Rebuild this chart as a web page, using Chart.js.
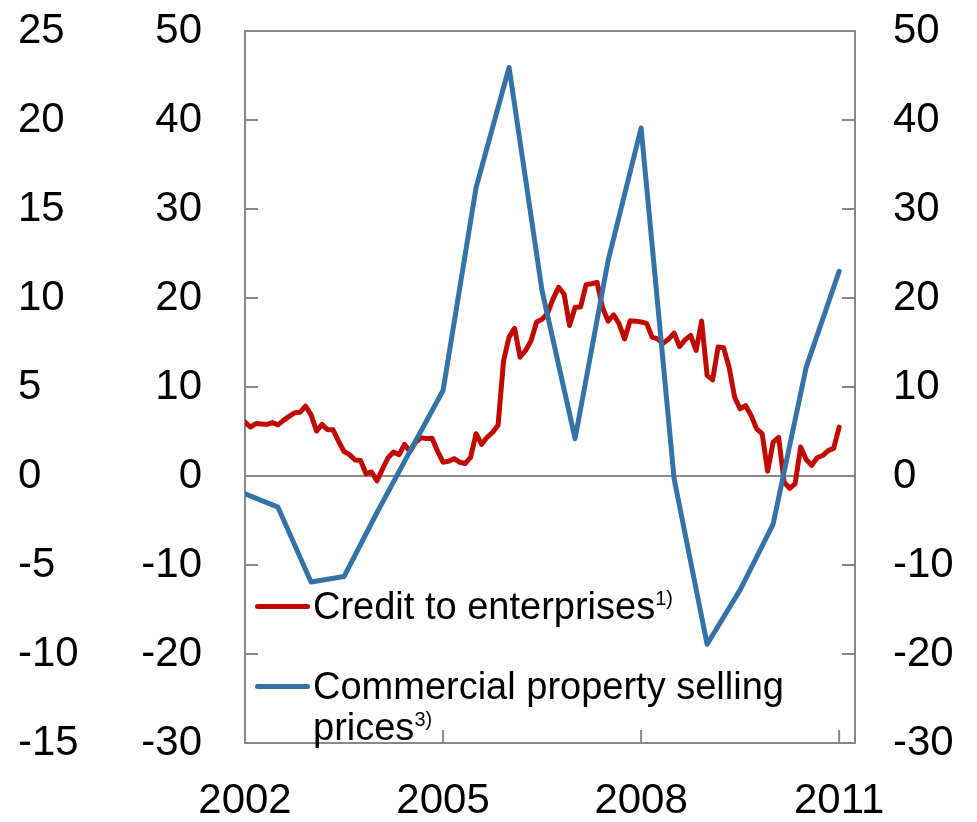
<!DOCTYPE html>
<html>
<head>
<meta charset="utf-8">
<script src="https://cdn.jsdelivr.net/npm/chart.js@4.4.1/dist/chart.umd.min.js"></script>
<style>
  html, body { margin: 0; padding: 0; background: #fff; }
  #wrap { position: relative; width: 977px; height: 822px; }
  #chart { position: absolute; left: 0; top: 0; }
  #legend {
    position: absolute; left: 255px; top: 586px;
    font-family: "Liberation Sans", Arial, sans-serif;
    font-size: 38px; line-height: 41px; color: #000;
  }
  .item { display: flex; align-items: flex-start; }
  .item + .item { margin-top: 39px; }
  .swatch { width: 55px; height: 5px; border-radius: 3px; margin-top: 18px; margin-right: 3px; flex: none; }
  .label { width: 480px; }
  .label sup { font-size: 20px; line-height: 0; vertical-align: 14px; }
</style>
</head>
<body>
<div id="wrap">
  <canvas id="chart" width="977" height="822"></canvas>
  <div id="legend"></div>
</div>
<script>
// monthly, Jan 2002 - Jan 2011, percent (left scale)
const creditStart = 2002
const creditGrowth = [
    6.05, 5.5, 5.9, 5.85, 5.8, 6.0, 5.75, 6.25, 6.7, 7.1, 7.15, 7.85,
    6.9, 5.05, 5.8, 5.2, 5.2, 3.9, 2.75, 2.4, 1.8, 1.75, 0.25, 0.45,
    -0.55, 0.8, 2.05, 2.7, 2.4, 3.55, 2.75, 3.8, 4.3, 4.2, 4.25, 2.8,
    1.55, 1.65, 1.95, 1.55, 1.4, 2.1, 4.75, 3.55, 4.35, 4.9, 5.7, 12.95,
    15.6, 16.6, 13.35, 14.1, 15.2, 17.3, 17.6, 18.3, 19.9, 21.2, 20.45, 16.9,
    18.95, 19.0, 21.5, 21.6, 21.75, 18.9, 17.4, 18.1, 17.1, 15.4, 17.45, 17.4,
    17.3, 17.15, 15.6, 15.4, 14.9, 15.4, 16.05, 14.55, 15.3, 15.8, 14.1, 17.4,
    11.3, 10.8, 14.5, 14.4, 12.2, 8.85, 7.55, 7.9, 6.8, 5.3, 4.75, 0.55,
    3.8, 4.35, -0.7, -1.4, -0.85, 3.25, 1.85, 1.2, 2.05, 2.3, 2.85, 3.1,
    5.5
]

// half-yearly, 2002 - 2011, percent (right scale)
const propertyStart = 2002
const propertyPrices = [
    -2.0, -3.5, -11.9, -11.3, -4.1, 2.8, 9.6, 32.4, 45.9, 20.8,
    4.2, 24.2, 39.1, -0.3, -18.9, -12.8, -5.4, 12.2, 23.0
]

const yearTicks = [2002, 2005, 2008, 2011]
const outerRange = [-15, 25, 5]
const innerRange = [-30, 50, 10]

const RED = "#C00A00"
const BLUE = "#3572A8"
const GREY = "#888888"
const TICK = 13
const tickFont = { family: "'Liberation Sans', Arial, sans-serif", size: 42 }

const creditPoints = creditGrowth.map((v, i) => ({ x: creditStart + i / 12, y: v }))
const propertyPoints = propertyPrices.map((v, i) => ({ x: propertyStart + i / 2, y: v }))

// fixed axis widths; drop the label overhang so the plot keeps its size
const fixWidth = w => s => {
    s.width = w
    s.paddingTop = 0
    s.paddingBottom = 0
}

// box round the plot plus inward tick marks on three sides
const frameAndTicks = {
    id: "frameAndTicks",
    beforeDatasetsDraw(chart) {
        const { ctx, chartArea: a, scales } = chart
        ctx.save()
        ctx.strokeStyle = GREY
        ctx.lineWidth = 2
        ctx.beginPath()
        scales.y.ticks.forEach((t, i) => {
            const py = scales.y.getPixelForTick(i)
            ctx.moveTo(a.left, py)
            ctx.lineTo(a.left + TICK, py)
        })
        scales.y2.ticks.forEach((t, i) => {
            const py = scales.y2.getPixelForTick(i)
            ctx.moveTo(a.right, py)
            ctx.lineTo(a.right - TICK, py)
        })
        scales.x.ticks.forEach((t, i) => {
            const px = scales.x.getPixelForTick(i)
            ctx.moveTo(px, a.bottom)
            ctx.lineTo(px, a.bottom - TICK)
        })
        ctx.stroke()
        ctx.strokeRect(a.left, a.top, a.width, a.height)
        ctx.restore()
    }
}

const context = document.getElementById("chart").getContext("2d")
const chart = new Chart(context, {
    type: "line",
    data: {
        datasets: [
            {
                label: "Credit to enterprises",
                note: "1)",
                data: creditPoints,
                yAxisID: "y",
                borderColor: RED,
                borderWidth: 5,
                pointRadius: 0,
                tension: 0,
                borderJoinStyle: "round",
                borderCapStyle: "round",
                order: 1
            },
            {
                label: "Commercial property selling prices",
                note: "3)",
                data: propertyPoints,
                yAxisID: "y2",
                borderColor: BLUE,
                borderWidth: 5,
                pointRadius: 0,
                tension: 0,
                borderJoinStyle: "round",
                borderCapStyle: "round",
                order: 0
            }
        ]
    },
    options: {
        responsive: false,
        animation: false,
        events: [],
        layout: { autoPadding: false, padding: { top: 31, left: 18, right: 0, bottom: 0 } },
        plugins: { legend: { display: false }, tooltip: { enabled: false } },
        scales: {
            x: {
                type: "linear",
                min: 2002,
                max: 2011.24,
                afterBuildTicks: s => { s.ticks = yearTicks.map(v => ({ value: v })) },
                afterFit: s => { s.height = 79 },
                grid: { display: false, drawTicks: false },
                border: { display: false },
                ticks: { font: tickFont, color: "#000", padding: 33, maxRotation: 0, autoSkip: false, callback: v => String(v) }
            },
            y: {
                position: "left",
                weight: 0,
                min: innerRange[0],
                max: innerRange[1],
                afterFit: fixWidth(125),
                grid: {
                    color: c => (c.tick && c.tick.value === 0 ? GREY : "transparent"),
                    lineWidth: 2,
                    drawTicks: false
                },
                border: { display: false },
                ticks: { stepSize: innerRange[2], font: tickFont, color: "#000", padding: 43, callback: v => String(v) }
            },
            yOuter: {
                position: "left",
                weight: 1,
                min: outerRange[0],
                max: outerRange[1],
                afterFit: fixWidth(102),
                grid: { display: false, drawTicks: false },
                border: { display: false },
                ticks: { stepSize: outerRange[2], font: tickFont, color: "#000", padding: 0, crossAlign: "far", callback: v => String(v) }
            },
            y2: {
                position: "right",
                min: innerRange[0],
                max: innerRange[1],
                afterFit: fixWidth(122),
                grid: { display: false, drawTicks: false },
                border: { display: false },
                ticks: { stepSize: innerRange[2], font: tickFont, color: "#000", padding: 38, callback: v => String(v) }
            }
        }
    },
    plugins: [frameAndTicks]
})

// legend sits inside the plot, lower left
const legend = document.getElementById("legend")
chart.data.datasets.forEach(ds => {
    const item = document.createElement("div")
    item.className = "item"
    const sw = document.createElement("span")
    sw.className = "swatch"
    sw.style.background = ds.borderColor
    const label = document.createElement("span")
    label.className = "label"
    label.innerHTML = ds.label + "<sup>" + ds.note + "</sup>"
    item.appendChild(sw)
    item.appendChild(label)
    legend.appendChild(item)
})
</script>
</body>
</html>
